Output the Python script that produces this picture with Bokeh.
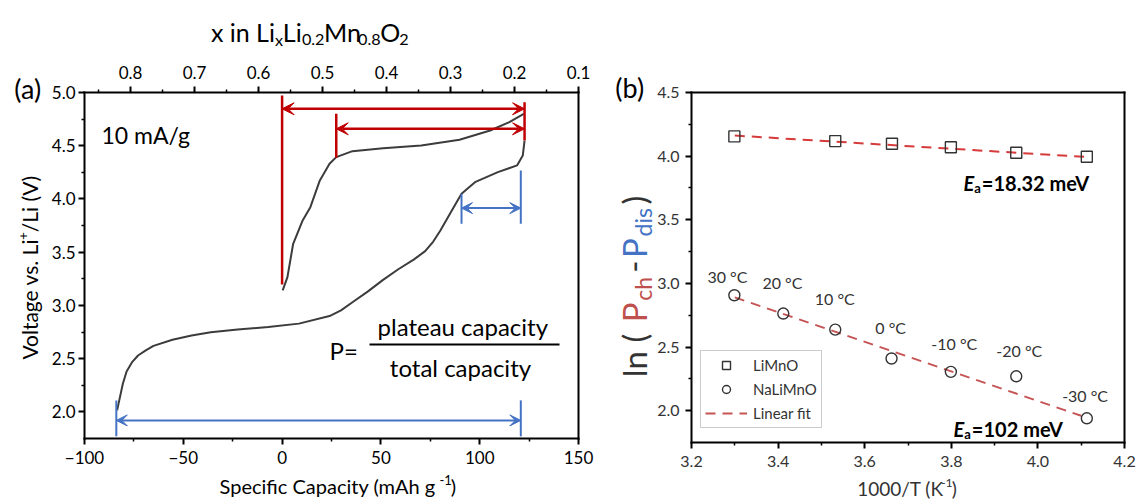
from bokeh.plotting import figure
from bokeh.models import (Range1d, LinearAxis, Label, Arrow, VeeHead, Legend, LegendItem,
                          FixedTicker, CustomJSTickFormatter)
from bokeh.layouts import row
from bokeh.embed import file_html
from bokeh.resources import INLINE

FONT = "Lato"

# ---------------- Panel (a) data ----------------
upper_cap = [0.3, 2.7, 5.6, 10.4, 14.3, 19.1, 24.0, 27.4, 35.6, 51.1, 70.4, 89.8, 105.3, 115.0, 122.3]
upper_v = [3.141, 3.266, 3.579, 3.798, 3.923, 4.174, 4.330, 4.393, 4.449, 4.477, 4.502, 4.556, 4.643, 4.721, 4.800]
lower_cap = [-83.5, -80.6, -78.7, -75.8, -72.9, -69.0, -65.1, -55.5, -45.8, -36.1, -22.5, -7.0, 8.5, 24.0,
             29.8, 35.6, 43.3, 51.1, 58.8, 66.6, 72.4, 76.5, 80.1, 85.9, 90.8, 97.6, 109.2, 118.9, 121.8, 122.7]
lower_v = [2.014, 2.264, 2.380, 2.470, 2.530, 2.578, 2.620, 2.678, 2.718, 2.748, 2.773, 2.797, 2.829, 2.900,
           2.953, 3.030, 3.130, 3.240, 3.340, 3.430, 3.510, 3.600, 3.704, 3.892, 4.049, 4.158, 4.252, 4.315, 4.408, 4.549]

red_bar_x = [0.0, 27.4, 122.7]
red_bar_lo = [3.197, 4.387, 4.549]
red_bar_hi = [4.972, 4.800, 4.909]
red_arrow_from = [0.0, 27.4]
red_arrow_to = [122.7, 122.7]
red_arrow_v = [4.847, 4.659]

blue_bar_x = [90.8, 120.8, -83.9, 120.8]
blue_bar_lo = [3.767, 3.767, 1.770, 1.770]
blue_bar_hi = [4.049, 4.268, 2.108, 2.108]
blue_arrow_from = [90.8, -83.9]
blue_arrow_to = [120.8, 120.8]
blue_arrow_v = [3.914, 1.920]

cap_ticks = [-100, -50, 0, 50, 100, 150]
volt_ticks = [2.0, 2.5, 3.0, 3.5, 4.0, 4.5, 5.0]
xli_ticks = [0.8, 0.7, 0.6, 0.5, 0.4, 0.3, 0.2, 0.1]

# ---------------- Panel (b) data ----------------
temps = ["30 °C", "20 °C", "10 °C", "0 °C", "-10 °C", "-20 °C", "-30 °C"]
inv_T_na = [3.299, 3.412, 3.532, 3.662, 3.799, 3.950, 4.113]
ln_na = [2.907, 2.763, 2.637, 2.410, 2.305, 2.270, 1.940]
inv_T_li = [3.299, 3.532, 3.663, 3.799, 3.950, 4.113]
ln_li = [4.155, 4.118, 4.097, 4.070, 4.027, 3.995]
fit_li_x = [3.300, 4.113]
fit_li_y = [4.162, 3.993]
fit_na_x = [3.300, 4.100]
fit_na_y = [2.890, 1.960]
temp_label_x = [3.283, 3.410, 3.531, 3.660, 3.807, 3.957, 4.109]
temp_label_y = [3.057, 3.004, 2.881, 2.656, 2.531, 2.474, 2.120]
invT_ticks = [3.2, 3.4, 3.6, 3.8, 4.0, 4.2]
ln_ticks = [2.0, 2.5, 3.0, 3.5, 4.0, 4.5]

# ---------------- layout (page pixels) ----------------
W, H = 1139, 499
WA = 605
WB = W - WA
A_L, A_R, A_T, A_B = 84, 578, 92, 438
B_L, B_R, B_T, B_B = 691, 1124, 92, 442
CAP0, CAP1, V0, V1 = -100, 150, 1.75, 5.0
T0, T1, L0, L1 = 3.2, 4.2, 1.75, 4.5
XLI_AT_CAP0, XLI_AT_CAP1 = 0.872, 0.1

AW = {' ': .278, '(': .333, ')': .333, '+': .584, '-': .333, '.': .278, '/': .278, '=': .584, '°': .4,
      'A': .667, 'C': .722, 'E': .667, 'K': .667, 'L': .556, 'M': .833, 'N': .722, 'O': .778, 'P': .667,
      'S': .667, 'T': .611, 'V': .667, 'a': .556, 'b': .556, 'c': .5, 'd': .556, 'e': .556, 'f': .278,
      'g': .556, 'h': .556, 'i': .222, 'l': .222, 'm': .833, 'n': .556, 'o': .556, 'p': .556, 'r': .333,
      's': .5, 't': .278, 'u': .556, 'v': .5, 'x': .5, 'y': .5}
BASE_FIX = 0.25   # lift to put the alphabetic baseline where wanted


def tw(text, size, bold=False):
    w = sum(AW.get(c, .556) for c in text) * size * 0.98
    return w * (1.06 if bold else 1.0)


def rich(p, x, y, pieces, size, align="center", angle=0, sub_ratio=0.65):
    """pieces: (text, kind, color, style[, gap_px]); kind in n/sub/sup. (x, y) = baseline anchor (data)."""
    items = []
    for pc in pieces:
        t, k, c, s = pc[:4]
        gap = pc[4] if len(pc) > 4 else 0
        sz = size if k == "n" else size * sub_ratio
        items.append((t, k, c, s, gap, sz, tw(t, sz, "bold" in s)))
    total = sum(it[4] + it[6] for it in items)
    cur = {"center": -total / 2, "left": 0, "right": -total}[align]
    for t, k, c, s, gap, sz, wd in items:
        cur += gap
        shift = {"n": 0, "sub": -0.2 * size, "sup": 0.38 * size}[k] + BASE_FIX * sz
        if angle == 0:
            xo, yo = cur, shift
        else:
            xo, yo = -shift, cur
        p.add_layout(Label(x=x, y=y, x_offset=xo, y_offset=yo, text=t, text_font=FONT,
                           text_font_size=f"{sz:.1f}px", text_color=c, text_font_style=s,
                           text_align="left", text_baseline="alphabetic", angle=angle,
                           angle_units="deg"))
        cur += wd


def make_axis(size, color, **kw):
    ax = LinearAxis(**kw)
    ax.axis_line_width = 2
    ax.axis_line_color = "black"
    ax.axis_line_cap = "square"
    ax.major_tick_line_width = 2
    ax.minor_tick_line_width = 1.5
    ax.major_tick_out = 6
    ax.major_tick_in = 0
    ax.minor_tick_out = 3
    ax.minor_tick_in = 0
    ax.major_label_text_font = FONT
    ax.major_label_text_font_size = f"{size}px"
    ax.major_label_text_color = color
    return ax


def border_axis(**kw):
    ax = LinearAxis(ticker=FixedTicker(ticks=[], minor_ticks=[]), **kw)
    ax.axis_line_width = 2
    ax.axis_line_color = "black"
    ax.axis_line_cap = "square"
    ax.major_tick_out = 0
    ax.minor_tick_out = 0
    return ax


# ================= Panel (a) =================
ax_px = lambda px: CAP0 + (px - A_L) / (A_R - A_L) * (CAP1 - CAP0)
ay_py = lambda py: V1 - (py - A_T) / (A_B - A_T) * (V1 - V0)
xli_of = lambda cap: XLI_AT_CAP0 + (cap - CAP0) / (CAP1 - CAP0) * (XLI_AT_CAP1 - XLI_AT_CAP0)

pa = figure(width=WA, height=H, x_range=Range1d(ax_px(0), ax_px(WA)), y_range=Range1d(ay_py(H), ay_py(0)),
            output_backend="svg", toolbar_location=None, x_axis_location=None, y_axis_location=None,
            min_border=0, min_border_left=0, min_border_right=0, min_border_top=0, min_border_bottom=0)
pa.xgrid.visible = False
pa.ygrid.visible = False
pa.outline_line_color = None

bottom_a = make_axis(17, "black", fixed_location=V0, bounds=(CAP0, CAP1),
                     ticker=FixedTicker(ticks=cap_ticks, minor_ticks=[-75, -25, 25, 75, 125]),
                     formatter=CustomJSTickFormatter(
                         code="return (tick < 0 ? '\\u2212' : '') + Math.abs(tick).toFixed(0);"))
bottom_a.major_label_standoff = 6
pa.add_layout(bottom_a, "below")

left_a = make_axis(17, "black", fixed_location=CAP0, bounds=(V0, V1),
                   ticker=FixedTicker(ticks=volt_ticks, minor_ticks=[2.25, 2.75, 3.25, 3.75, 4.25, 4.75]),
                   formatter=CustomJSTickFormatter(code="return tick.toFixed(1);"))
left_a.major_label_standoff = 3
pa.add_layout(left_a, "left")

pa.extra_x_ranges = {"xli": Range1d(xli_of(ax_px(0)), xli_of(ax_px(WA)))}
top_a = make_axis(17, "black", x_range_name="xli", fixed_location=V1, bounds=(XLI_AT_CAP1, XLI_AT_CAP0),
                  ticker=FixedTicker(ticks=xli_ticks, minor_ticks=[0.85, 0.75, 0.65, 0.55, 0.45, 0.35, 0.25, 0.15]),
                  formatter=CustomJSTickFormatter(code="return tick.toFixed(1);"))
top_a.major_label_standoff = 8
pa.add_layout(top_a, "above")
pa.add_layout(border_axis(fixed_location=CAP1, bounds=(V0, V1)), "right")

pa.line(lower_cap, lower_v, line_color="#3c3c3c", line_width=2)
pa.line(upper_cap, upper_v, line_color="#3c3c3c", line_width=2)

RED = "#C00000"
BLUE = "#4472C4"
pa.segment(x0=red_bar_x, y0=red_bar_lo, x1=red_bar_x, y1=red_bar_hi, line_color=RED, line_width=2.5)
pa.segment(x0=blue_bar_x, y0=blue_bar_lo, x1=blue_bar_x, y1=blue_bar_hi, line_color=BLUE, line_width=2)
for x0, x1, yv in zip(red_arrow_from, red_arrow_to, red_arrow_v):
    pa.add_layout(Arrow(x_start=x0, y_start=yv, x_end=x1, y_end=yv, line_color=RED, line_width=2.5,
                        start=VeeHead(size=12, fill_color=RED, line_color=RED, line_width=1),
                        end=VeeHead(size=12, fill_color=RED, line_color=RED, line_width=1)))
for x0, x1, yv in zip(blue_arrow_from, blue_arrow_to, blue_arrow_v):
    pa.add_layout(Arrow(x_start=x0, y_start=yv, x_end=x1, y_end=yv, line_color=BLUE, line_width=2,
                        start=VeeHead(size=11, fill_color=BLUE, line_color=BLUE, line_width=1),
                        end=VeeHead(size=11, fill_color=BLUE, line_color=BLUE, line_width=1)))

# fraction bar of the P= formula
frac_px = (369, 559)
frac_py = 344
pa.segment(x0=[ax_px(frac_px[0])], y0=[ay_py(frac_py)], x1=[ax_px(frac_px[1])], y1=[ay_py(frac_py)],
           line_color="black", line_width=2)

K = "black"
rich(pa, ax_px(30), ay_py(95), [("(a)", "n", K, "normal")], 27)
rich(pa, ax_px(309), ay_py(38), [("x in Li", "n", K, "normal"), ("x", "sub", K, "normal"),
                                 ("Li", "n", K, "normal"), ("0.2", "sub", K, "normal"),
                                 ("Mn", "n", K, "normal"), ("0.8", "sub", K, "normal"),
                                 ("O", "n", K, "normal"), ("2", "sub", K, "normal")], 25)
rich(pa, ax_px(101), ay_py(140), [("10 mA/g", "n", K, "normal")], 23, align="left")
rich(pa, ax_px(329), ay_py(356), [("P=", "n", K, "normal")], 24, align="left")
rich(pa, ax_px(462), ay_py(332), [("plateau capacity", "n", K, "normal")], 24)
rich(pa, ax_px(458), ay_py(373), [("total capacity", "n", K, "normal")], 24)
rich(pa, ax_px(338), ay_py(490), [("Specific Capacity (mAh g", "n", K, "normal"),
                                  ("-1", "sup", K, "normal", 1), (")", "n", K, "normal")], 20)
rich(pa, ax_px(34), ay_py(268), [("Voltage vs. Li", "n", K, "normal"), ("+", "sup", K, "normal", -4),
                                 ("/Li (V)", "n", K, "normal")], 21, angle=90)

# ================= Panel (b) =================
bx_px = lambda px: T0 + (px - B_L) / (B_R - B_L) * (T1 - T0)
by_py = lambda py: L1 - (py - B_T) / (B_B - B_T) * (L1 - L0)

pb = figure(width=WB, height=H, x_range=Range1d(bx_px(WA), bx_px(W)), y_range=Range1d(by_py(H), by_py(0)),
            output_backend="svg", toolbar_location=None, x_axis_location=None, y_axis_location=None,
            min_border=0, min_border_left=0, min_border_right=0, min_border_top=0, min_border_bottom=0)
pb.xgrid.visible = False
pb.ygrid.visible = False
pb.outline_line_color = None

GRAY_T = "#333333"
bottom_b = make_axis(16, GRAY_T, fixed_location=L0, bounds=(T0, T1),
                     ticker=FixedTicker(ticks=invT_ticks, minor_ticks=[3.3, 3.5, 3.7, 3.9, 4.1]),
                     formatter=CustomJSTickFormatter(code="return tick.toFixed(1);"))
bottom_b.major_label_standoff = 7
pb.add_layout(bottom_b, "below")
left_b = make_axis(16, GRAY_T, fixed_location=T0, bounds=(L0, L1),
                   ticker=FixedTicker(ticks=ln_ticks, minor_ticks=[2.25, 2.75, 3.25, 3.75, 4.25]),
                   formatter=CustomJSTickFormatter(code="return tick.toFixed(1);"))
left_b.major_label_standoff = 6
pb.add_layout(left_b, "left")
pb.add_layout(border_axis(fixed_location=L1, bounds=(T0, T1)), "above")
pb.add_layout(border_axis(fixed_location=T1, bounds=(L0, L1)), "right")

FIT_LI = "#D63A3A"
FIT_NA = "#C65454"
r_fit_li = pb.line(fit_li_x, fit_li_y, line_color=FIT_LI, line_width=2, line_dash="10 7")
r_fit_na = pb.line(fit_na_x, fit_na_y, line_color=FIT_NA, line_width=2, line_dash="10 7")
r_sq = pb.scatter(inv_T_li, ln_li, marker="square", size=11, fill_color=None, line_color="#333333",
                  line_width=1.4)
r_ci = pb.scatter(inv_T_na, ln_na, marker="circle", size=11, fill_color=None, line_color="#333333",
                  line_width=1.4)

for tx, ty, tt in zip(temp_label_x, temp_label_y, temps):
    pb.add_layout(Label(x=tx, y=ty, text=tt, text_font=FONT, text_font_size="16px", text_color="#333333",
                        text_align="center", text_baseline="middle"))

legend = Legend(items=[LegendItem(label="LiMnO", renderers=[r_sq]),
                       LegendItem(label="NaLiMnO", renderers=[r_ci]),
                       LegendItem(label="Linear fit", renderers=[r_fit_na])],
                location=(700 - WA, H - 428), padding=4, spacing=4, margin=0, glyph_width=42,
                glyph_height=20, label_height=20, label_standoff=6, label_text_font=FONT,
                label_text_font_size="15px", label_text_color="#333333", border_line_color="#999999",
                border_line_width=1, background_fill_color="white", background_fill_alpha=1)
pb.add_layout(legend, "center")

D = "#333333"
RED_L = "#C0504D"
rich(pb, bx_px(631), by_py(94), [("(b)", "n", "black", "normal")], 27)
rich(pb, bx_px(963), by_py(187), [("E", "n", "black", "bold italic"), ("a", "sub", "black", "bold", -3),
                                  ("=18.32 meV", "n", "black", "bold")], 20, align="left")
rich(pb, bx_px(953), by_py(433), [("E", "n", "black", "bold italic"), ("a", "sub", "black", "bold", -3),
                                  ("=102 meV", "n", "black", "bold")], 20, align="left")
rich(pb, bx_px(907), by_py(493), [("1000/T (K", "n", D, "normal"), ("-1", "sup", D, "normal", 2),
                                  (")", "n", D, "normal")], 19)
rich(pb, bx_px(642), by_py(285), [("ln (", "n", D, "normal"), ("P", "n", RED_L, "normal", 10),
                                  ("ch", "sub", RED_L, "normal"), ("-", "n", D, "normal", 4),
                                  ("P", "n", BLUE, "normal", 4), ("dis", "sub", BLUE, "normal"),
                                  (")", "n", D, "normal", 3)], 33, angle=90, sub_ratio=0.7)

layout = row(pa, pb)
open("out.html", "w").write(file_html(layout, INLINE))
